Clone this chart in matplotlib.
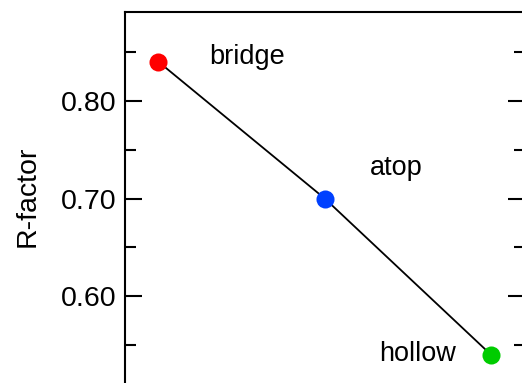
import matplotlib
matplotlib.use('Agg')
from matplotlib import pyplot as plt

# DATA
sites = ['bridge', 'atop', 'hollow']
site_pos = [1, 2, 3]
r_factor = [0.84, 0.70, 0.54]
colors = ['#ff0000', '#0040ff', '#00cc00']
yticks = [0.60, 0.70, 0.80]
yminor = [0.55, 0.65, 0.75, 0.85]

# label positions (data coords, baseline)
label_x = [1.535, 2.43, 2.56]
label_y = [0.838, 0.7245, 0.534]

plt.rcParams['font.family'] = ['Liberation Sans', 'DejaVu Sans']

fig = plt.figure(figsize=(5.22, 3.83), dpi=100)
# axes run past the bottom and right edges (reference is a crop)
ax = fig.add_axes([125 / 522, -12 / 383, 399.5 / 522, 1.0])

# line through the sites, then coloured points
ax.plot(site_pos, r_factor, color='black', lw=1.3, zorder=1)
for x, y, c in zip(site_pos, r_factor, colors):
    ax.plot(x, y, 'o', color=c, markersize=13, markeredgewidth=0, zorder=2)

for name, x, y in zip(sites, label_x, label_y):
    ax.text(x, y, name, fontsize=19.5, ha='center', va='baseline')

ax.set_xlim(0.8, 3.2)
ax.set_ylim(0.499, 0.8908)
ax.set_yticks(yticks)
ax.set_yticklabels(['%.2f' % t for t in yticks])
ax.set_yticks(yminor, minor=True)
ax.set_xticks([])
ax.tick_params(axis='y', which='both', direction='in', right=True, labelsize=20.5, width=1.5, pad=6)
ax.tick_params(axis='y', which='major', length=12)
ax.tick_params(axis='y', which='minor', length=8)
for s in ax.spines.values():
    s.set_linewidth(1.5)

ax.set_ylabel('R-factor', fontsize=20.5)
ax.yaxis.set_label_coords(-0.21, 0.52)

fig.savefig('out.png', dpi=100)
